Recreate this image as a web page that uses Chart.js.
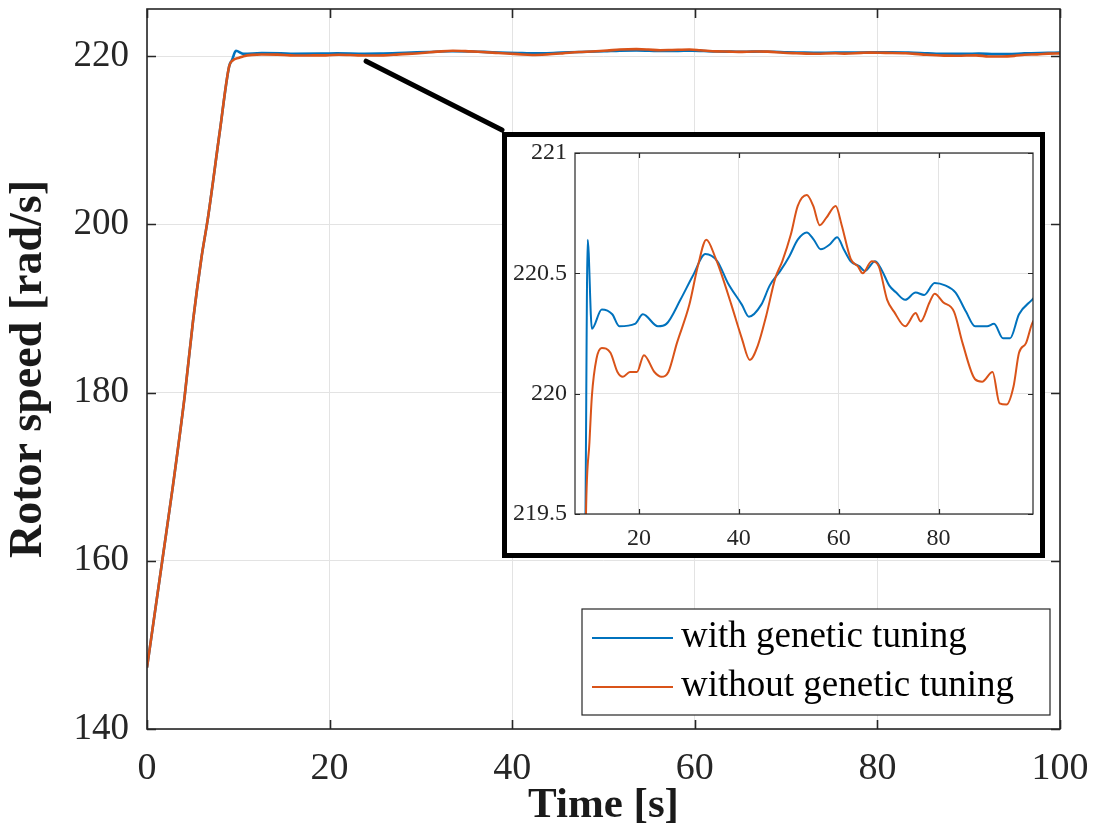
<!DOCTYPE html>
<html>
<head>
<meta charset="utf-8">
<script src="https://cdn.jsdelivr.net/npm/chart.js@4.4.1/dist/chart.umd.min.js"></script>
<style>
  body { margin: 0; background: #fff; }
  #wrap { position: relative; width: 1100px; height: 830px; }
  #zoomBox {
    position: absolute; left: 502px; top: 132px; width: 543px; height: 426px;
    box-sizing: border-box; border: 5px solid #000; background: #fff;
  }
  #zoomBox canvas { display: block; }
</style>
</head>
<body>
<div id="wrap">
  <canvas id="speedChart" width="1100" height="830"></canvas>
  <div id="zoomBox"><canvas id="zoomChart" width="533" height="416"></canvas></div>
</div>
<script>
// start-up ramp, shared by both runs
const rampTime  = [0, 1.75, 2.85, 4.13, 5.04, 5.96, 6.68, 7.97, 9.0];
const rampSpeed = [147.3, 160.6, 169.0, 179.6, 188.5, 196.0, 200.8, 211.0, 218.8];

// with genetic tuning
const timeWith  = [9.3, 9.74, 10.58, 12.56, 14.66, 16.06, 19.2, 20.8, 23.8, 25.5, 28.3, 30.8, 33.3, 35.7, 37.8, 40.6, 42.0, 44.5, 46.2, 48.3, 50.1, 51.8, 53.6, 55.0, 56.4, 58.2, 59.7, 61.0, 62.4, 64.1, 65.2, 67.3, 68.7, 70.1, 71.5, 73.3, 75.4, 77.1, 79.2, 81.3, 83.4, 85.5, 87.3, 89.7, 91.1, 92.9, 94.3, 96.1, 98.7, 100];
const speedWith = [219.5, 220.64, 220.27, 220.35, 220.33, 220.28, 220.29, 220.33, 220.28, 220.29, 220.39, 220.49, 220.58, 220.55, 220.46, 220.37, 220.32, 220.37, 220.45, 220.51, 220.57, 220.64, 220.67, 220.64, 220.60, 220.62, 220.65, 220.60, 220.55, 220.53, 220.51, 220.55, 220.51, 220.45, 220.42, 220.39, 220.42, 220.41, 220.46, 220.45, 220.42, 220.34, 220.28, 220.28, 220.29, 220.23, 220.23, 220.33, 220.39, 220.42];

// without genetic tuning
const timeWithout  = [9.4, 10.1, 10.58, 11.5, 12.56, 14.3, 15.7, 16.8, 18.2, 19.6, 21.0, 23.1, 24.5, 25.9, 27.6, 30.1, 31.8, 33.5, 35.4, 36.3, 38.5, 40.6, 42.2, 43.8, 45.5, 47.3, 48.7, 50.4, 51.8, 53.6, 54.9, 56.2, 57.5, 59.4, 60.6, 62.4, 63.8, 64.8, 66.6, 68.0, 69.7, 71.1, 73.3, 75.4, 76.4, 78.2, 79.2, 80.9, 83.1, 84.8, 87.3, 88.7, 90.8, 92.2, 93.6, 95.0, 96.1, 97.5, 98.7, 100];
const speedWithout = [219.5, 219.8, 219.99, 220.145, 220.19, 220.17, 220.09, 220.07, 220.09, 220.09, 220.16, 220.09, 220.07, 220.09, 220.21, 220.37, 220.53, 220.64, 220.56, 220.51, 220.37, 220.23, 220.14, 220.20, 220.325, 220.48, 220.55, 220.66, 220.78, 220.825, 220.78, 220.70, 220.73, 220.78, 220.70, 220.56, 220.53, 220.50, 220.55, 220.53, 220.39, 220.34, 220.28, 220.335, 220.30, 220.38, 220.415, 220.38, 220.34, 220.21, 220.06, 220.05, 220.09, 219.96, 219.955, 220.03, 220.17, 220.21, 220.29, 220.33];

const xTicks = [0, 20, 40, 60, 80, 100];
const yTicks = [140, 160, 180, 200, 220];
const zoomXTicks = [20, 40, 60, 80];
const zoomYTicks = [219.5, 220, 220.5, 221];
const zoomYLabels = ['219.5', '220', '220.5', '221'];

const seriesNames = ['with genetic tuning', 'without genetic tuning'];
const colors = ['#0072BD', '#D95319'];

function toPoints(xs, ys) {
  return xs.map((x, i) => ({ x: x, y: ys[i] }));
}
const withPts = toPoints(rampTime, rampSpeed).concat(toPoints(timeWith, speedWith));
const withoutPts = toPoints(rampTime, rampSpeed).concat(toPoints(timeWithout, speedWithout));

const serif = '"Liberation Serif", "Times New Roman", serif';
const axisGray = '#262626';

// keep the plot box exactly where the axis sizes put it
function fixSize(prop, size) {
  return s => {
    s[prop] = size;
    s.paddingTop = 0; s.paddingBottom = 0;
    s.paddingLeft = 0; s.paddingRight = 0;
  };
}

// box around the axes plus inward tick marks, matlab style
const frame = {
  id: 'frame',
  afterDatasetsDraw(chart, args, opts) {
    const { ctx, chartArea: a, scales: { x, y } } = chart;
    const len = opts.tick;
    ctx.save();
    ctx.strokeStyle = axisGray;
    ctx.lineWidth = opts.width;
    ctx.beginPath();
    x.ticks.forEach(t => {
      const px = Math.round(x.getPixelForValue(t.value)) + 0.5;
      ctx.moveTo(px, a.bottom); ctx.lineTo(px, a.bottom - len);
      ctx.moveTo(px, a.top); ctx.lineTo(px, a.top + len);
    });
    y.ticks.forEach(t => {
      const py = Math.round(y.getPixelForValue(t.value)) + 0.5;
      ctx.moveTo(a.left, py); ctx.lineTo(a.left + len, py);
      ctx.moveTo(a.right, py); ctx.lineTo(a.right - len, py);
    });
    ctx.stroke();
    ctx.strokeRect(a.left, a.top, a.right - a.left, a.bottom - a.top);
    ctx.restore();
  }
};

// legend with a box in the lower right
const boxLegend = {
  id: 'boxLegend',
  afterDraw(chart) {
    const { ctx, chartArea: a } = chart;
    const w = 468, h = 106;
    const left = a.right - 10 - w, top = a.bottom - 14 - h;
    ctx.save();
    ctx.fillStyle = '#fff';
    ctx.fillRect(left, top, w, h);
    ctx.strokeStyle = axisGray;
    ctx.lineWidth = 1.2;
    ctx.strokeRect(left, top, w, h);
    chart.data.datasets.forEach((ds, i) => {
      const cy = top + 29 + i * 49;
      ctx.strokeStyle = ds.borderColor;
      ctx.lineWidth = 2.2;
      ctx.beginPath();
      ctx.moveTo(left + 10, cy);
      ctx.lineTo(left + 91, cy);
      ctx.stroke();
      ctx.fillStyle = '#000';
      ctx.font = '37px ' + serif;
      ctx.textBaseline = 'alphabetic';
      ctx.fillText(ds.label, left + 99, cy + 9);
    });
    ctx.restore();
  }
};

// thick stroke from the curve to the zoom box corner
const pointer = {
  id: 'pointer',
  afterDraw(chart) {
    const { ctx, scales: { x, y } } = chart;
    const box = document.getElementById('zoomBox');
    ctx.save();
    ctx.strokeStyle = '#000';
    ctx.lineWidth = 5;
    ctx.lineCap = 'round';
    ctx.beginPath();
    ctx.moveTo(x.getPixelForValue(24), y.getPixelForValue(219.4));
    ctx.lineTo(box.offsetLeft, box.offsetTop - 2);
    ctx.stroke();
    ctx.restore();
  }
};

// orange is drawn over blue (lower order ends up on top)
function makeDatasets(width) {
  return [
    { label: seriesNames[0], data: withPts, borderColor: colors[0], borderWidth: width, order: 1,
      pointRadius: 0, cubicInterpolationMode: 'monotone', fill: false },
    { label: seriesNames[1], data: withoutPts, borderColor: colors[1], borderWidth: width, order: 0,
      pointRadius: 0, cubicInterpolationMode: 'monotone', fill: false }
  ];
}

new Chart(document.getElementById('speedChart'), {
  type: 'line',
  data: { datasets: makeDatasets(2.6) },
  options: {
    responsive: false,
    animation: false,
    layout: { padding: { top: 9, right: 40, left: 0, bottom: 0 } },
    plugins: {
      legend: { display: false },
      tooltip: { enabled: false },
      frame: { tick: 9, width: 1.6 }
    },
    scales: {
      x: {
        type: 'linear', min: 0, max: 100,
        afterBuildTicks: s => { s.ticks = xTicks.map(v => ({ value: v })); },
        afterFit: fixSize('height', 101),
        grid: { color: '#e3e3e3', lineWidth: 1, drawTicks: false },
        border: { display: false },
        ticks: { color: axisGray, padding: 17, maxRotation: 0, font: { family: serif, size: 38 } },
        title: { display: true, text: 'Time [s]', color: '#1a1a1a', padding: { top: 0, bottom: 0 },
                 font: { family: serif, size: 43, weight: 'bold', lineHeight: 1.1 } }
      },
      y: {
        type: 'linear', min: 140, max: 225.6,
        afterBuildTicks: s => { s.ticks = yTicks.map(v => ({ value: v })); },
        afterFit: fixSize('width', 147),
        grid: { color: '#e3e3e3', lineWidth: 1, drawTicks: false },
        border: { display: false },
        ticks: { color: axisGray, padding: 18, font: { family: serif, size: 37 } },
        title: { display: true, text: 'Rotor speed [rad/s]', color: '#1a1a1a', padding: { top: 4, bottom: 0 },
                 font: { family: serif, size: 46, weight: 'bold', lineHeight: 1.1 } }
      }
    }
  },
  plugins: [frame, boxLegend, pointer]
});

new Chart(document.getElementById('zoomChart'), {
  type: 'line',
  data: { datasets: makeDatasets(2) },
  options: {
    responsive: false,
    animation: false,
    layout: { padding: { top: 16, right: 7, left: 0, bottom: 0 } },
    plugins: {
      legend: { display: false },
      tooltip: { enabled: false },
      frame: { tick: 5, width: 1.2 }
    },
    scales: {
      x: {
        type: 'linear', min: 7.2, max: 98.9,
        afterBuildTicks: s => { s.ticks = zoomXTicks.map(v => ({ value: v })); },
        afterFit: fixSize('height', 39),
        grid: { color: '#e3e3e3', lineWidth: 1, drawTicks: false },
        border: { display: false },
        ticks: { color: axisGray, padding: 10, maxRotation: 0, font: { family: serif, size: 24 } }
      },
      y: {
        type: 'linear', min: 219.5, max: 221,
        afterBuildTicks: s => { s.ticks = zoomYTicks.map(v => ({ value: v })); },
        afterFit: fixSize('width', 68),
        grid: { color: '#e3e3e3', lineWidth: 1, drawTicks: false },
        border: { display: false },
        ticks: { color: axisGray, padding: 8, font: { family: serif, size: 24 },
                 callback: (v, i) => zoomYLabels[i] }
      }
    }
  },
  plugins: [frame]
});
</script>
</body>
</html>
